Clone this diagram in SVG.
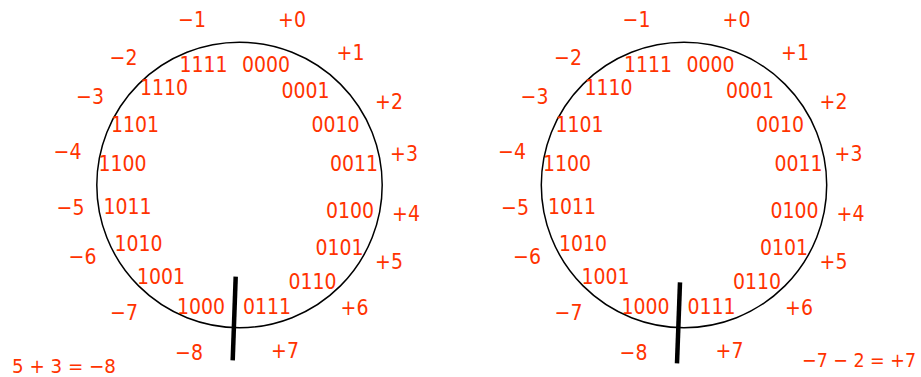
<svg xmlns="http://www.w3.org/2000/svg" width="921" height="377" viewBox="0 0 921 377">
<style>
text{font-family:"DejaVu Sans Condensed","DejaVu Sans",sans-serif;font-stretch:condensed;font-size:21px;fill:#ff3300;text-anchor:middle}
.eq{text-anchor:start;font-size:19.5px}
.ring{fill:none;stroke:#000;stroke-width:1.5}
.cut{stroke:#000;stroke-width:4.5;stroke-linecap:butt}
</style>
<defs>
<g id="wheel">
<circle class="ring" cx="239.5" cy="185" r="142.7"/>
<text x="192" y="27">−1</text>
<text x="292" y="27">+0</text>
<text x="350.5" y="60">+1</text>
<text x="123.5" y="65">−2</text>
<text x="203.5" y="71.7">1111</text>
<text x="266" y="71.7">0000</text>
<text x="164" y="95">1110</text>
<text x="305.5" y="97.7">0001</text>
<text x="90" y="104">−3</text>
<text x="389" y="109">+2</text>
<text x="135" y="131.7">1101</text>
<text x="335.5" y="131.7">0010</text>
<text x="67.5" y="159">−4</text>
<text x="404" y="161">+3</text>
<text x="122.5" y="170.7">1100</text>
<text x="354" y="170.7">0011</text>
<text x="70.5" y="215">−5</text>
<text x="127.5" y="214.3">1011</text>
<text x="350" y="218.3">0100</text>
<text x="406" y="220.7">+4</text>
<text x="138.5" y="251">1010</text>
<text x="339.5" y="255">0101</text>
<text x="82.5" y="264">−6</text>
<text x="389" y="269">+5</text>
<text x="161" y="284.3">1001</text>
<text x="312.5" y="289">0110</text>
<text x="201" y="314">1000</text>
<text x="267" y="314">0111</text>
<text x="124" y="320">−7</text>
<text x="354.5" y="315">+6</text>
<text x="189" y="360">−8</text>
<text x="285" y="358.3">+7</text>
</g>
</defs>
<g id="wheel-left">
<use href="#wheel"/>
<line class="cut" x1="235.7" y1="276.7" x2="232.7" y2="360.3"/>
<text class="eq" x="12" y="373" textLength="104" lengthAdjust="spacingAndGlyphs">5 + 3 = −8</text>
</g>
<g id="wheel-right">
<use href="#wheel" transform="translate(444.5,0)"/>
<line class="cut" x1="680" y1="282.3" x2="677" y2="363.3"/>
<text class="eq" x="802" y="367" textLength="114" lengthAdjust="spacingAndGlyphs">−7 − 2 = +7</text>
</g>
</svg>
